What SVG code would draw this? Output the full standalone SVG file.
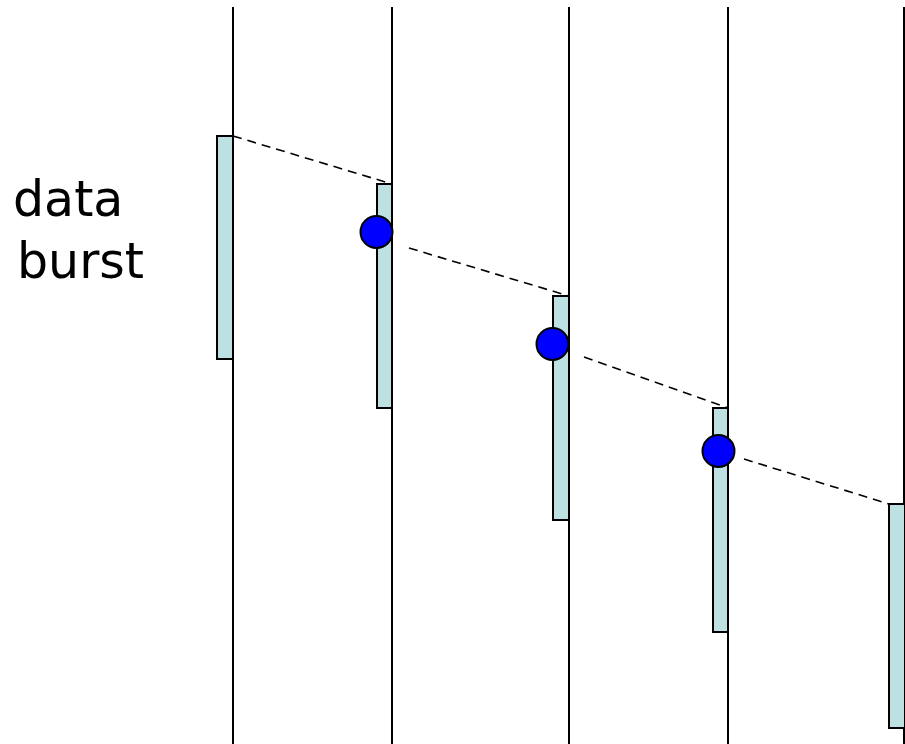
<svg xmlns="http://www.w3.org/2000/svg" width="905" height="744" viewBox="0 0 905 744">
  <style>
    .wire { stroke: #000; stroke-width: 2; fill: none; }
    .burst { fill: #bde0e2; stroke: #000; stroke-width: 2; }
    .hop { stroke: #000; stroke-width: 1.6; stroke-dasharray: 9 6; fill: none; }
    .node { fill: #0000ff; stroke: #000; stroke-width: 2; }
    .label { font-family: "Comic Sans MS", "DejaVu Sans", sans-serif; font-size: 49px; fill: #000; }
  </style>
  <rect width="905" height="744" fill="#fff"/>

  <!-- vertical time lines -->
  <g id="lines">
    <line class="wire" x1="233" y1="7" x2="233" y2="744"/>
    <line class="wire" x1="392" y1="7" x2="392" y2="744"/>
    <line class="wire" x1="569" y1="7" x2="569" y2="744"/>
    <line class="wire" x1="728" y1="7" x2="728" y2="744"/>
    <line class="wire" x1="904" y1="7" x2="904" y2="744"/>
  </g>

  <!-- dashed propagation connectors -->
  <g id="connectors">
    <line class="hop" x1="233" y1="136" x2="392" y2="184"/>
    <line class="hop" x1="409" y1="248" x2="569" y2="296"/>
    <line class="hop" x1="584" y1="357" x2="728" y2="408"/>
    <line class="hop" x1="744" y1="459" x2="889" y2="504"/>
  </g>

  <g id="burst1"><rect class="burst" x="217" y="136" width="16" height="223"/></g>
  <g id="burst2"><rect class="burst" x="377" y="184" width="15" height="224"/></g>
  <g id="burst3"><rect class="burst" x="553" y="296" width="16" height="224"/></g>
  <g id="burst4"><rect class="burst" x="713" y="408" width="15" height="224"/></g>
  <g id="burst5"><rect class="burst" x="889" y="504" width="16" height="224"/></g>

  <g id="node1"><circle class="node" cx="376.5" cy="232" r="16"/></g>
  <g id="node2"><circle class="node" cx="552.5" cy="344" r="16"/></g>
  <g id="node3"><circle class="node" cx="718.5" cy="451" r="16"/></g>

  <g id="caption">
    <text class="label" x="13" y="216">data</text>
    <text class="label" x="17" y="278">burst</text>
  </g>
</svg>
